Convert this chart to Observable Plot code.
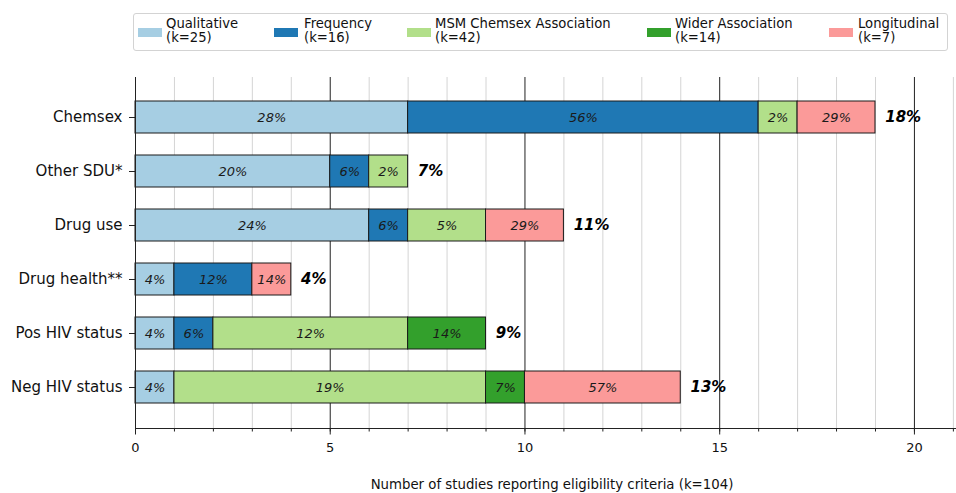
<!DOCTYPE html>
<html><head><meta charset="utf-8">
<script src="https://cdn.jsdelivr.net/npm/d3@7"></script>
<script src="https://cdn.jsdelivr.net/npm/@observablehq/plot@0.6"></script>
<style>
body{margin:0;background:#fff;font-family:"DejaVu Sans",sans-serif;}
#wrap{position:relative;width:956px;height:493px;overflow:hidden;}
#box{position:absolute;left:133px;top:13px;width:815px;height:38px;border:1px solid #d3d3d3;border-radius:3px;box-sizing:border-box;}
.sw{position:absolute;width:24px;height:9px;top:28px;}
.lt{position:absolute;font-size:13.2px;line-height:14px;top:17px;white-space:nowrap;color:#111;}
#chart{position:absolute;left:0;top:0;}
</style></head>
<body>
<div id="wrap"><div id="chart"></div><div id="box"></div></div>
<script>
const categories = ["Chemsex","Other SDU*","Drug use","Drug health**","Pos HIV status","Neg HIV status"];
const seriesNames = ["Qualitative","Frequency","MSM Chemsex Association","Wider Association","Longitudinal"];
const seriesK = [25,16,42,14,7];
const colors = ["#a6cee3","#1f78b4","#b2df8a","#33a02c","#fb9a99"];
const qualitative  = [7,5,6,1,1,1];
const frequency    = [9,1,1,2,1,0];
const msm          = [1,1,2,0,5,8];
const wider        = [0,0,0,0,2,1];
const longitudinal = [2,0,2,1,0,4];
const totalK = 104;
const xTicks = [0,5,10,15,20];
const xLabel = "Number of studies reporting eligibility criteria (k=104)";

function pct(v,k){
  const x = v/k*100, f = Math.floor(x);
  let r = Math.round(x);
  if (Math.abs(x - f - 0.5) < 1e-9) r = (f % 2 === 0) ? f : f + 1;
  return r + "%";
}
const seriesVals = [qualitative, frequency, msm, wider, longitudinal];
const rows = [];
seriesNames.forEach((s,si)=>{
  categories.forEach((c,ci)=>{
    const v = seriesVals[si][ci];
    if (v > 0) rows.push({cat:c, series:s, v, label:pct(v, seriesK[si])});
  });
});
const totals = categories.map((c,ci)=>{
  const t = d3.sum(seriesVals, a=>a[ci]);
  return {cat:c, total:t, label:pct(t,totalK)};
});

// legend
const wrap = document.getElementById("wrap");
const swX = [138,274,407,647,829];
const txX = [166,304,435,675,858];
seriesNames.forEach((s,i)=>{
  const sw = document.createElement("div");
  sw.className="sw"; sw.style.left=swX[i]+"px"; sw.style.background=colors[i];
  wrap.appendChild(sw);
  const t = document.createElement("div");
  t.className="lt"; t.style.left=txX[i]+"px";
  t.innerHTML = s + "<br>(k=" + seriesK[i] + ")";
  wrap.appendChild(t);
});

const chart = Plot.plot({
  width:956, height:493,
  marginTop:77, marginBottom:65, marginLeft:135, marginRight:0,
  style:{fontFamily:"DejaVu Sans, sans-serif", background:"transparent", color:"#111"},
  x:{domain:[0,21.08]},
  y:{domain:categories, paddingInner:0.4, paddingOuter:0.445},
  color:{domain:seriesNames, range:colors},
  marks:[
    Plot.ruleX(d3.range(0,22).filter(d=>d%5!==0), {stroke:"#d4d4d4", strokeWidth:1}),
    Plot.ruleX(xTicks.filter(d=>d>0), {stroke:"#222", strokeWidth:1}),
    Plot.barX(rows, Plot.stackX({x:"v", y:"cat", z:"series", fill:"series", stroke:"#1a1a1a", strokeWidth:1})),
    Plot.text(rows, Plot.stackX({x:"v", y:"cat", z:"series", text:"label", fontStyle:"italic", fontSize:13, fill:"#1a1a1a"})),
    Plot.text(totals, {x:d=>d.total+0.25, y:"cat", text:"label", textAnchor:"start", fontWeight:"bold", fontStyle:"italic", fontSize:15, fill:"#000"}),
    Plot.ruleX([0], {stroke:"#222", strokeWidth:1}),
    Plot.frame({anchor:"bottom", stroke:"#222"}),
    Plot.axisX(d3.range(0,22), {tickSize:3.5, tickFormat:()=>"", label:null, stroke:"#222"}),
    Plot.axisX(xTicks, {tickSize:6.5, tickPadding:8, fontSize:13, label:null, stroke:"#222", fill:"#111"}),
    Plot.axisY({tickSize:6, tickPadding:7, fontSize:15, label:null, stroke:"#222", fill:"#111"}),
    Plot.text([xLabel], {frameAnchor:"bottom", lineAnchor:"middle", dx:6, dy:56, fontSize:13.3, fill:"#111"})
  ]
});
document.getElementById("chart").appendChild(chart);
</script>
</body></html>
